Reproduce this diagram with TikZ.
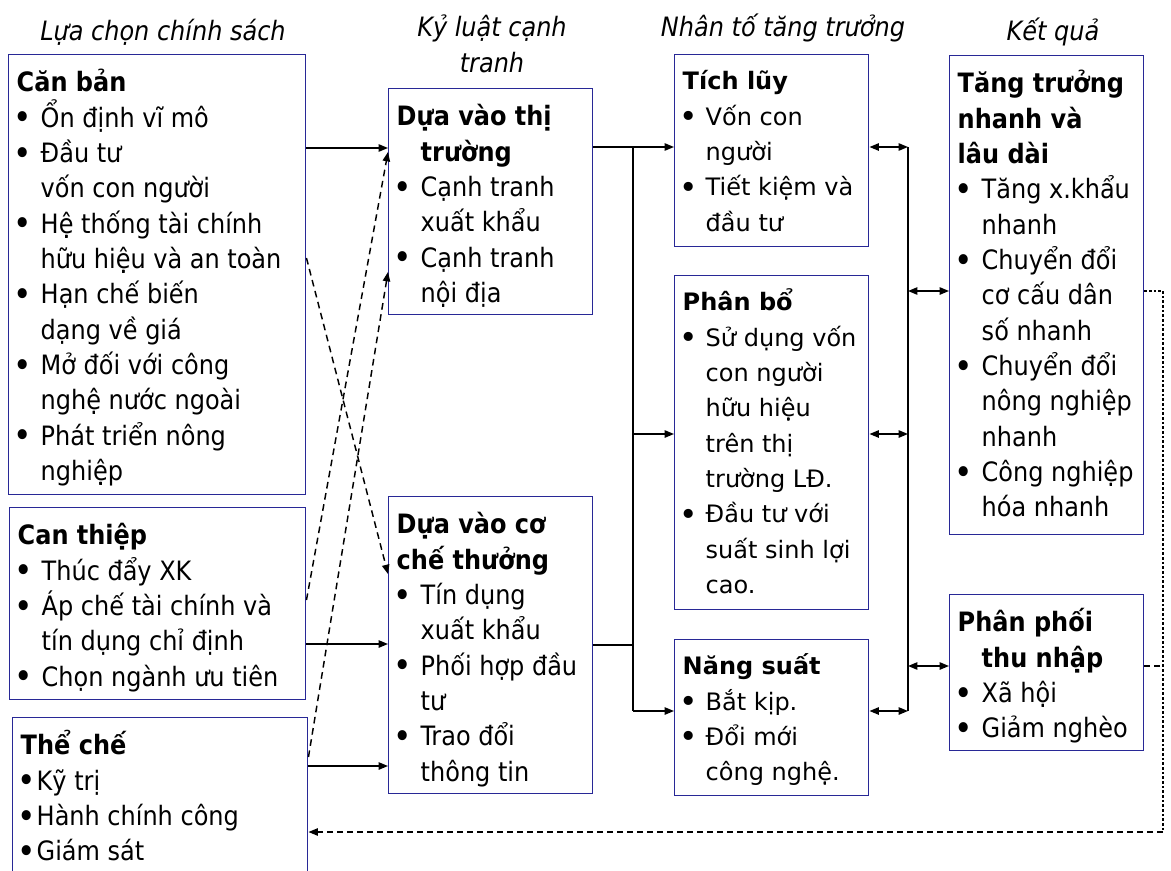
\documentclass[tikz,border=0pt]{standalone}
\usepackage{fontspec}
\setmainfont{DejaVu Sans Condensed}[BoldFont={DejaVu Sans Condensed Bold},ItalicFont={DejaVu Sans Condensed Oblique}]
\newfontfamily\widefont{DejaVu Sans}
\usetikzlibrary{arrows.meta}
\definecolor{boxblue}{RGB}{40,40,150}
\newlength\px \setlength\px{0.75pt}
\newlength\bulw
\newcommand\topstrut{27.75pt}
% two text faces: narrow for policies/outcomes, wide for growth factors
\newcommand{\tahoma}{\fontsize{20}{26.5}\selectfont\setlength\bulw{24\px}\renewcommand\topstrut{27.75pt}}
\newcommand{\verdana}{\widefont\fontsize{18}{26.5}\selectfont\setlength\bulw{23\px}\renewcommand\topstrut{26.25pt}}
\newcommand{\hd}[1]{\mbox{\bfseries #1}}
\newcommand{\bl}[1]{\mbox{\makebox[\bulw][l]{\hspace{-3\px}\raisebox{-0.1em}{\scalebox{1.3}{\textbullet}}}#1}}
\newcommand{\cl}[1]{\mbox{\hspace*{\bulw}#1}}
\newcommand{\panelbox}[4]{\parbox[c][#2\px][t]{#1\px}{#3\lineskiplimit=-100pt\lineskip=0pt\leftskip=8\px\parindent=0pt\rule{0pt}{\topstrut}#4}}
\tikzset{
  panel/.style={draw=boxblue, line width=1.1pt, inner sep=0pt, anchor=north west},
  ttl/.style={font=\fontsize{20}{26.5}\selectfont\itshape, align=center, inner sep=0pt},
  link/.style={line width=1.1pt},
  arrow/.style={link, -{Triangle[length=7pt,width=5.5pt]}},
  dblarrow/.style={link, {Triangle[length=7pt,width=5.5pt]}-{Triangle[length=7pt,width=5.5pt]}},
  dasharrow/.style={arrow, dash pattern=on 5pt off 3.5pt},
  fbline/.style={line width=1pt, dash pattern=on 4.5pt off 3pt},
  fbdots/.style={line width=1pt, dash pattern=on 2pt off 1.5pt}
}
\begin{document}
\begin{tikzpicture}[x=0.75pt,y=-0.75pt]
  \clip (0,0) rectangle (1171,871);
  % column titles
  \node[ttl] (tluachon) at (163,32) {Lựa chọn chính sách};
  \node[ttl] (tkyluat) at (492,44) {Kỷ luật cạnh\\tranh};
  \node[ttl] (tnhanto) at (783,28) {Nhân tố tăng trưởng};
  \node[ttl] (tketqua) at (1053,32) {Kết quả};

  % policy choices
  \node[panel] (canban) at (8,54) {\panelbox{297}{440}{\tahoma}{%
    \hd{Căn bản}\\
    \bl{Ổn định vĩ mô}\\
    \bl{Đầu tư}\\
    \cl{vốn con người}\\
    \bl{Hệ thống tài chính}\\
    \cl{hữu hiệu và an toàn}\\
    \bl{Hạn chế biến}\\
    \cl{dạng về giá}\\
    \bl{Mở đối với công}\\
    \cl{nghệ nước ngoài}\\
    \bl{Phát triển nông}\\
    \cl{nghiệp}}};
  \node[panel] (canthiep) at (9,507) {\panelbox{296}{192}{\tahoma}{%
    \hd{Can thiệp}\\
    \bl{Thúc đẩy XK}\\
    \bl{Áp chế tài chính và}\\
    \cl{tín dụng chỉ định}\\
    \bl{Chọn ngành ưu tiên}}};
  \node[panel] (thache) at (12,717) {\panelbox{295}{200}{\tahoma\setlength\bulw{16\px}}{%
    \hd{Thể chế}\\
    \bl{Kỹ trị}\\
    \bl{Hành chính công}\\
    \bl{Giám sát}}};

  % competitive discipline
  \node[panel] (thitruong) at (388,88) {\panelbox{204}{226}{\tahoma}{%
    \hd{Dựa vào thị}\\
    \cl{\bfseries trường}\\
    \bl{Cạnh tranh}\\
    \cl{xuất khẩu}\\
    \bl{Cạnh tranh}\\
    \cl{nội địa}}};
  \node[panel] (cochethuong) at (388,496) {\panelbox{204}{297}{\tahoma}{%
    \hd{Dựa vào cơ}\\
    \hd{chế thưởng}\\
    \bl{Tín dụng}\\
    \cl{xuất khẩu}\\
    \bl{Phối hợp đầu}\\
    \cl{tư}\\
    \bl{Trao đổi}\\
    \cl{thông tin}}};

  % growth factors
  \node[panel] (tichluy) at (674,54) {\panelbox{194}{192}{\verdana}{%
    \hd{Tích lũy}\\
    \bl{Vốn con}\\
    \cl{người}\\
    \bl{Tiết kiệm và}\\
    \cl{đầu tư}}};
  \node[panel] (phanbo) at (674,275) {\panelbox{194}{334}{\verdana}{%
    \hd{Phân bổ}\\
    \bl{Sử dụng vốn}\\
    \cl{con người}\\
    \cl{hữu hiệu}\\
    \cl{trên thị}\\
    \cl{trường LĐ.}\\
    \bl{Đầu tư với}\\
    \cl{suất sinh lợi}\\
    \cl{cao.}}};
  \node[panel] (nangsuat) at (674,639) {\panelbox{194}{156}{\verdana}{%
    \hd{Năng suất}\\
    \bl{Bắt kịp.}\\
    \bl{Đổi mới}\\
    \cl{công nghệ.}}};

  % outcomes
  \node[panel] (tangtruong) at (949,55) {\panelbox{194}{479}{\tahoma}{%
    \hd{Tăng trưởng}\\
    \hd{nhanh và}\\
    \hd{lâu dài}\\
    \bl{Tăng x.khẩu}\\
    \cl{nhanh}\\
    \bl{Chuyển đổi}\\
    \cl{cơ cấu dân}\\
    \cl{số nhanh}\\
    \bl{Chuyển đổi}\\
    \cl{nông nghiệp}\\
    \cl{nhanh}\\
    \bl{Công nghiệp}\\
    \cl{hóa nhanh}}};
  \node[panel] (phanphoi) at (949,594) {\panelbox{194}{156}{\tahoma}{%
    \hd{Phân phối}\\
    \cl{\bfseries thu nhập}\\
    \bl{Xã hội}\\
    \bl{Giảm nghèo}}};

  % policy -> discipline
  \draw[arrow] (canban.east |- 0,148) -- (thitruong.west |- 0,148);
  \draw[arrow] (canthiep.east |- 0,644) -- (cochethuong.west |- 0,644);
  \draw[arrow] (thache.east |- 0,766) -- (cochethuong.west |- 0,766);
  \draw[dasharrow] (canban.east |- 0,258) -- (cochethuong.west |- 0,574);
  \draw[dasharrow] (canthiep.east |- 0,600) -- (thitruong.west |- 0,152);
  \draw[dasharrow] (thache.east |- 0,757) -- (thitruong.west |- 0,272);

  % discipline -> growth factors
  \coordinate (lb1) at (633,147);
  \coordinate (lb2) at (633,434);
  \coordinate (lb3) at (633,645);
  \coordinate (lb4) at (633,711);
  \draw[link] (thitruong.east |- lb1) -- (lb1) -- (lb4);
  \draw[link] (cochethuong.east |- lb3) -- (lb3);
  \draw[arrow] (lb1) -- (tichluy.west |- lb1);
  \draw[arrow] (lb2) -- (phanbo.west |- lb2);
  \draw[arrow] (lb4) -- (nangsuat.west |- lb4);

  % growth factors <-> outcomes
  \coordinate (rb1) at (908,147);
  \coordinate (rb2) at (908,434);
  \coordinate (rb3) at (908,711);
  \coordinate (ro1) at (908,291);
  \coordinate (ro2) at (908,666);
  \draw[link] (rb1) -- (rb3);
  \draw[dblarrow] (tichluy.east |- rb1) -- (rb1);
  \draw[dblarrow] (phanbo.east |- rb2) -- (rb2);
  \draw[dblarrow] (nangsuat.east |- rb3) -- (rb3);
  \draw[dblarrow] (ro1) -- (tangtruong.west |- ro1);
  \draw[dblarrow] (ro2) -- (phanphoi.west |- ro2);

  % feedback to institutions
  \coordinate (fb1) at (1163,291);
  \coordinate (fb2) at (1163,666);
  \coordinate (fb3) at (1163,832);
  \draw[fbdots] (tangtruong.east |- fb1) -- (fb1) -- (fb3);
  \draw[fbline] (phanphoi.east |- fb2) -- (fb2);
  \draw[fbline, -{Triangle[length=7pt,width=5.5pt]}] (fb3) -- (thache.east |- fb3);
\end{tikzpicture}
\end{document}
